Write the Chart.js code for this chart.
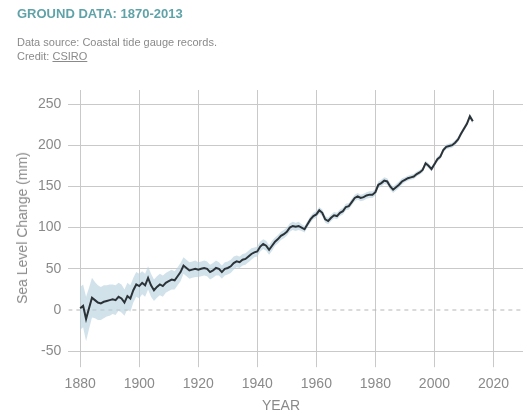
<!DOCTYPE html>
<html>
<head>
<meta charset="utf-8">
<script src="https://cdn.jsdelivr.net/npm/chart.js@4/dist/chart.umd.min.js"></script>
<style>
  html, body { margin: 0; padding: 0; background: #fff; }
  body { width: 530px; height: 414px; position: relative; overflow: hidden;
         font-family: "Liberation Sans", Arial, sans-serif; }
  #wrap { position: absolute; left: 0; top: 0; width: 530px; height: 414px; }
  .txt { position: absolute; white-space: nowrap; color: #8a8a8a; }
  #title { left: 17px; top: 6px; font-size: 13px; font-weight: bold; color: #5fa3a8; }
  #source { left: 17px; top: 36px; font-size: 11px; }
  #credit { left: 17px; top: 50px; font-size: 11px; }
  #credit u { text-decoration: underline; }
  #ytitle { left: 22px; top: 228px; font-size: 14px; transform: translate(-50%, -50%) rotate(-90deg); }
  #xtitle { left: 281px; top: 405px; font-size: 14px; transform: translate(-50%, -50%); }
</style>
</head>
<body>
<div id="wrap"><canvas id="chart" width="530" height="414"></canvas></div>
<div class="txt" id="title">GROUND DATA: 1870-2013</div>
<div class="txt" id="source">Data source: Coastal tide gauge records.</div>
<div class="txt" id="credit">Credit: <u>CSIRO</u></div>
<div class="txt" id="ytitle">Sea Level Change (mm)</div>
<div class="txt" id="xtitle">YEAR</div>
<script>
// Annual global mean sea level relative to 1880 (mm)
const startYear = 1880;
const seaLevel = [
  2, 5, -11, 2, 15, 12, 9, 8, 10, 11,
  12, 13, 12, 16, 14, 9, 17, 14, 24, 31,
  29, 33, 30, 39, 30, 24, 28, 31, 29, 33,
  35, 37, 36, 41, 46, 54, 51, 48, 49, 50,
  49, 50, 51, 50, 46, 48, 51, 50, 46, 50,
  51, 53, 57, 59, 58, 61, 62, 65, 68, 70,
  71, 77, 80, 78, 73, 78, 83, 86, 90, 92,
  95, 100, 102, 101, 102, 100, 98, 104, 110, 114,
  116, 121, 118, 110, 108, 112, 115, 114, 118, 120,
  125, 126, 131, 136, 138, 136, 137, 139, 140, 140,
  143, 152, 154, 157, 156, 150, 146, 149, 152, 156,
  158, 160, 161, 162, 165, 167, 170, 178, 175, 171,
  177, 183, 186, 194, 198, 199, 200, 203, 207, 214,
  220, 226, 235, 229
];
// One-sigma uncertainty for each year (mm)
const uncertainty = [
  26, 26, 27, 25, 24, 22, 21, 20, 20, 19,
  19, 18, 18, 17, 17, 16, 16, 16, 15, 15,
  15, 14, 14, 14, 14, 13, 13, 13, 13, 12,
  12, 12, 11, 11, 11, 10, 10, 10, 10, 10,
  9, 9, 9, 9, 9, 9, 9, 8, 8, 8,
  8, 8, 8, 7, 7, 7, 7, 7, 7, 6,
  6, 6, 6, 6, 6, 6, 5, 5, 5, 5,
  5, 5, 5, 5, 5, 4, 4, 4, 4, 4,
  4, 4, 4, 4, 4, 4, 4, 4, 4, 4,
  4, 4, 4, 4, 4, 4, 4, 4, 4, 4,
  4, 4, 4, 4, 4, 4, 4, 4, 4, 4,
  3, 3, 3, 3, 3, 3, 3, 3, 3, 3,
  3, 3, 3, 3, 3, 3, 3, 3, 3, 3,
  3, 3, 3, 3
];
const xTicks = [1880, 1900, 1920, 1940, 1960, 1980, 2000, 2020];
const yTicks = [-50, 0, 50, 100, 150, 200, 250];
const xRange = [1876, 2030];
const yRange = [-50, 267];

const years = seaLevel.map((_, i) => startYear + i);
const mainPts = years.map((yr, i) => ({ x: yr, y: seaLevel[i] }));
const upperPts = years.map((yr, i) => ({ x: yr, y: seaLevel[i] + uncertainty[i] }));
const lowerPts = years.map((yr, i) => ({ x: yr, y: seaLevel[i] - uncertainty[i] }));
const zeroPts = [{ x: xRange[0], y: 0 }, { x: xRange[1], y: 0 }];

const tickFont = { family: '"Liberation Sans", Arial, sans-serif', size: 14 };
const gridColor = '#c9c9c9';

new Chart(document.getElementById('chart'), {
  type: 'line',
  data: {
    datasets: [
      { data: zeroPts, borderColor: '#b5b5b5', borderWidth: 1, borderDash: [4, 4],
        pointRadius: 0, fill: false, order: 3 },
      { data: upperPts, borderWidth: 0, borderColor: 'rgba(0,0,0,0)', pointRadius: 0,
        fill: false, order: 2 },
      { data: lowerPts, borderWidth: 0, borderColor: 'rgba(0,0,0,0)', pointRadius: 0,
        backgroundColor: 'rgba(186,210,222,0.65)', fill: '-1', order: 2 },
      { data: mainPts, borderColor: '#2b3338', borderWidth: 2, pointRadius: 0,
        fill: false, tension: 0, order: 1 }
    ]
  },
  options: {
    responsive: false,
    animation: false,
    events: [],
    layout: { padding: { top: 90, left: 31, right: 7, bottom: 12 } },
    plugins: { legend: { display: false }, tooltip: { enabled: false } },
    scales: {
      x: {
        type: 'linear', min: xRange[0], max: xRange[1],
        afterBuildTicks: (s) => { s.ticks = xTicks.map(v => ({ value: v })); },
        border: { display: false },
        grid: { color: gridColor, lineWidth: 1, drawTicks: true, tickLength: 16, tickColor: gridColor },
        ticks: { color: '#8a8a8a', font: tickFont, padding: 9, maxRotation: 0,
                 callback: (v) => String(v) }
      },
      y: {
        type: 'linear', min: yRange[0], max: yRange[1],
        afterBuildTicks: (s) => { s.ticks = yTicks.map(v => ({ value: v })); },
        border: { display: false },
        grid: { color: (c) => (c.tick && c.tick.value === 0) ? 'rgba(0,0,0,0)' : gridColor,
                lineWidth: 1, drawTicks: false },
        ticks: { color: '#8a8a8a', font: tickFont, padding: 7, callback: (v) => String(v) }
      }
    }
  }
});
</script>
</body>
</html>
